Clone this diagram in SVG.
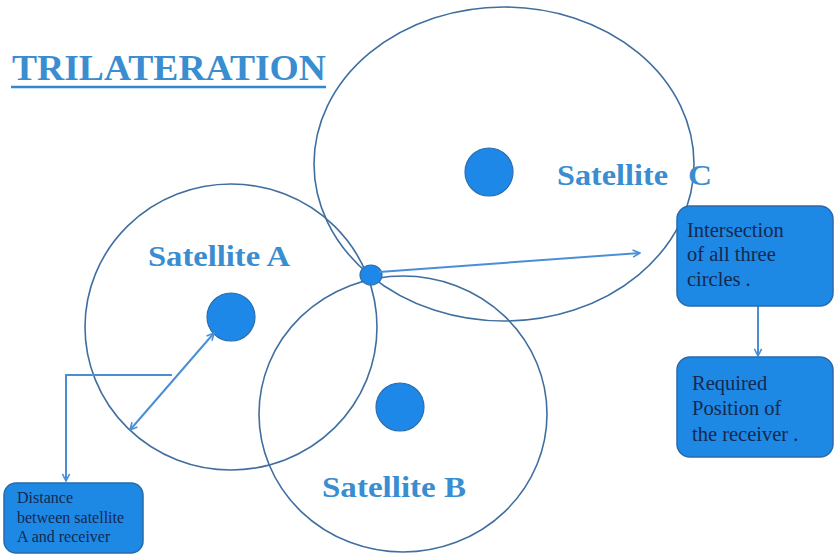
<svg xmlns="http://www.w3.org/2000/svg" width="834" height="556" viewBox="0 0 834 556">
<defs>
<marker id="ah" viewBox="0 0 10 10" refX="9" refY="5" markerWidth="9" markerHeight="9" orient="auto-start-reverse" markerUnits="userSpaceOnUse">
<path d="M1,1 L9,5 L1,9" fill="none" stroke="#4a8fd6" stroke-width="1.8"/>
</marker>
<style>
.ring{fill:none;stroke:#3f6f9f;stroke-width:1.6}
.dot{fill:#1e88e8;stroke:#2b6eae;stroke-width:1.2}
.lbl{font-family:"Liberation Serif",serif;font-weight:bold;fill:#3a8dd0}
.box{fill:#1e88e5;stroke:#2a6aa8;stroke-width:1.5}
.bt{font-family:"Liberation Serif",serif;fill:#15294f}
.con{fill:none;stroke:#4a8fd6;stroke-width:2}
</style>
</defs>
<rect width="834" height="556" fill="#ffffff"/>
<text x="12" y="80" class="lbl" font-size="36" fill="#2f88d0" textLength="314" lengthAdjust="spacingAndGlyphs">TRILATERATION</text>
<line x1="11" y1="87" x2="326" y2="87" stroke="#2f88d0" stroke-width="2.5"/>
<g id="satC">
<ellipse cx="504" cy="164" rx="190" ry="157" class="ring"/>
<circle cx="489" cy="172" r="24" class="dot"/>
<text x="557" y="185" class="lbl" font-size="29" textLength="111" lengthAdjust="spacingAndGlyphs">Satellite</text>
<text x="688" y="185" class="lbl" font-size="29" textLength="24" lengthAdjust="spacingAndGlyphs">C</text>
</g>
<g id="satA">
<ellipse cx="231" cy="327" rx="146" ry="143" class="ring"/>
<circle cx="231" cy="317" r="24" class="dot"/>
<text x="148" y="266" class="lbl" font-size="29" textLength="142" lengthAdjust="spacingAndGlyphs">Satellite A</text>
</g>
<g id="satB">
<ellipse cx="403" cy="414" rx="144" ry="138" class="ring"/>
<circle cx="400" cy="407" r="24" class="dot"/>
<text x="322" y="497" class="lbl" font-size="29" textLength="144" lengthAdjust="spacingAndGlyphs">Satellite B</text>
</g>
<g id="intersection">
<ellipse cx="371" cy="275" rx="11" ry="10" class="dot"/>
</g>
<g id="connectors">
<path d="M379,272 L640,253" class="con" marker-end="url(#ah)"/>
<path d="M758,305 L758,356" class="con" marker-end="url(#ah)"/>
<path d="M172,375 L66,375 L66,481" class="con" marker-end="url(#ah)"/>
<path d="M214,333 L130,430" class="con" marker-start="url(#ah)" marker-end="url(#ah)"/>
</g>
<g id="box-intersection">
<rect x="677" y="206" width="156" height="100" rx="13" class="box"/>
<text class="bt" font-size="20.5"><tspan x="687" y="237">Intersection</tspan><tspan x="687" y="261">of all three</tspan><tspan x="687" y="286">circles .</tspan></text>
</g>
<g id="box-position">
<rect x="677" y="357" width="156" height="100" rx="13" class="box"/>
<text class="bt" font-size="20.5"><tspan x="692" y="390">Required</tspan><tspan x="692" y="415">Position of</tspan><tspan x="692" y="441">the receiver .</tspan></text>
</g>
<g id="box-distance">
<rect x="4" y="483" width="139" height="70" rx="12" class="box"/>
<text class="bt" font-size="16"><tspan x="17" y="503">Distance</tspan><tspan x="17" y="523">between satellite</tspan><tspan x="17" y="542">A and receiver</tspan></text>
</g>
</svg>
